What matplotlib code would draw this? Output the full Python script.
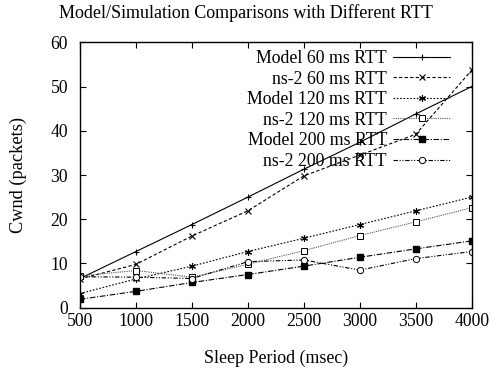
import matplotlib
matplotlib.use("Agg")
import matplotlib.pyplot as plt

sleep = [500, 1000, 1500, 2000, 2500, 3000, 3500, 4000]
model60 = [6.6, 12.7, 18.8, 25.0, 31.3, 37.4, 43.8, 50.0]
ns60 = [6.5, 9.8, 16.2, 21.9, 29.8, 34.5, 39.2, 53.7]
model120 = [3.2, 6.5, 9.4, 12.7, 15.7, 18.8, 21.9, 25.0]
ns120 = [7.2, 8.4, 6.9, 9.8, 12.9, 16.3, 19.4, 22.6]
model200 = [1.9, 3.7, 5.7, 7.5, 9.4, 11.4, 13.3, 15.1]
ns200 = [7.0, 6.9, 6.6, 10.4, 10.8, 8.5, 11.1, 12.7]

labels = ["Model 60 ms RTT", "ns-2 60 ms RTT", "Model 120 ms RTT",
          "ns-2 120 ms RTT", "Model 200 ms RTT", "ns-2 200 ms RTT"]
xticks = [500, 1000, 1500, 2000, 2500, 3000, 3500, 4000]
yticks = [0, 10, 20, 30, 40, 50, 60]

plt.rcParams['font.family'] = ['Liberation Serif', 'DejaVu Serif']

W, H = 492, 371
fig = plt.figure(figsize=(W/100, H/100), dpi=100)
L, R, T, B = 80, 471.7, 42.3, 307.7
ax = fig.add_axes([L/W, 1-B/H, (R-L)/W, (B-T)/H])

lw = 0.8
ax.plot(sleep, model60, color='black', linestyle='-', marker='+', ms=5, mew=0.8, lw=lw, label=labels[0])
ax.plot(sleep, ns60, color='black', linestyle=(0, (3, 2)), marker='x', ms=4, mew=0.8, lw=lw, label=labels[1])
ax.plot(sleep, model120, color='black', linestyle=(0, (1.5, 1.5)), marker=(6, 2, 0), ms=5, mew=0.8, lw=lw, label=labels[2])
ax.plot(sleep, ns120, color='#555555', linestyle=(0, (1, 1)), marker='s', ms=5, mfc='white', mec='black', mew=0.7, lw=lw, label=labels[3])
ax.plot(sleep, model200, color='black', linestyle=(0, (5, 1.5, 1, 1.5)), marker='s', ms=5, mfc='black', mec='black', lw=lw, label=labels[4])
ax.plot(sleep, ns200, color='black', linestyle=(0, (4, 1.5, 1, 1.5, 1, 1.5)), marker='o', ms=4.5, mfc='white', mec='black', mew=0.7, lw=lw, label=labels[5])

ax.set_xlim(500, 4000)
ax.set_ylim(0, 60)
ax.set_xticks(xticks)
ax.set_yticks(yticks)
ax.tick_params(direction='in', top=True, right=True, labelsize=12.7, length=4, width=0.8)
ax.tick_params(axis='x', pad=3.5)
ax.tick_params(axis='y', pad=8.5)
for s in ax.spines.values():
    s.set_linewidth(1.0)

ax.set_xlabel("Sleep Period (msec)", fontsize=12.9)
ax.xaxis.set_label_coords(0.5, -(358 - B) / (B - T), transform=ax.transAxes)
ax.set_ylabel("Cwnd (packets)", fontsize=13.2)
ax.yaxis.set_label_coords(-(L - 18) / (R - L), 0.5, transform=ax.transAxes)
ax.xaxis.label.set_va('center')
ax.yaxis.label.set_va('center')
fig.text(0.5, 1-13/H, "Model/Simulation Comparisons with Different RTT", ha='center', va='center', fontsize=13)

leg = ax.legend(loc='upper right', frameon=False, markerfirst=False, fontsize=12.8,
                handlelength=3.2, handletextpad=0.35, labelspacing=0.2,
                borderaxespad=0, borderpad=0,
                bbox_to_anchor=((450 - L) / (R - L), (B - 50) / (B - T)))
for t in leg.get_texts():
    t.set_ha('right')
leg._legend_box.align = "right"

fig.savefig("out.png", dpi=100)
